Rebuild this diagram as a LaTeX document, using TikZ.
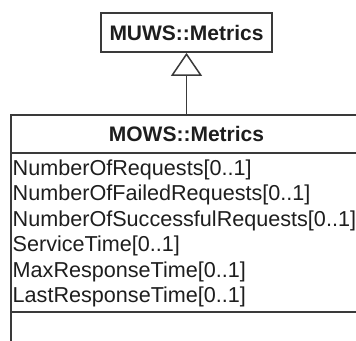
\documentclass[tikz,border=0pt]{standalone}
\usepackage{fontspec}
\setmainfont{Liberation Sans}
\usetikzlibrary{arrows.meta}
\definecolor{umlline}{HTML}{3A3A3A}
\definecolor{umltext}{HTML}{1E1E1E}
\tikzset{
  classname/.style={font=\fontsize{21}{23}\selectfont\bfseries, text=umltext, inner sep=0pt},
  classbox/.style={draw=umlline, line width=1.8pt, minimum width=171pt, minimum height=39pt, inner sep=0pt},
  attr/.style={font=\fontsize{21.6}{23}\selectfont, text=umltext, anchor=base west, inner sep=0pt},
  compartment/.style={draw=umlline, line width=1.8pt},
  generalization/.style={draw=umlline, line width=1.8pt,
    -{Triangle[open, width=31pt, length=23pt, line width=1.5pt]}}
}
\begin{document}
\begin{tikzpicture}[x=1pt, y=-1pt]
  \useasboundingbox (0,0) rectangle (356,340);
  \fill[white] (0,0) rectangle (356,340);
  \clip (0,0) rectangle (356,340);

  % parent class
  \node[classbox] (muws) at (186.5,32.5) {};
  \node[classname] at (muws.center) {MUWS::Metrics};

  % child class, running past the right and bottom edges
  \draw[compartment] (11,115) rectangle (380,370);
  \draw[compartment] (11,153) -- (380,153);
  \draw[compartment] (11,312) -- (380,312);
  \coordinate (mowstop) at (186.5,115);
  \node[classname] (mows) at (186.5,134) {MOWS::Metrics};

  % attributes
  \node[attr] (a1) at (12.5,175) {NumberOfRequests[0..1]};
  \node[attr] (a2) at (12.5,200.5) {NumberOfFailedRequests[0..1]};
  \node[attr] (a3) at (12.5,226) {NumberOfSuccessfulRequests[0..1]};
  \node[attr] (a4) at (12.5,251.5) {ServiceTime[0..1]};
  \node[attr] (a5) at (12.5,277) {MaxResponseTime[0..1]};
  \node[attr] (a6) at (12.5,302) {LastResponseTime[0..1]};

  % inheritance
  \draw[generalization] (mowstop) -- (muws.south);
\end{tikzpicture}
\end{document}
